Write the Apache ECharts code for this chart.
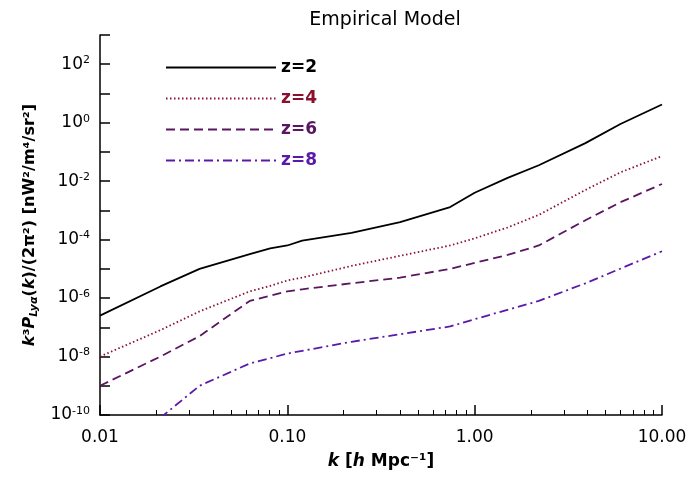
<!DOCTYPE html>
<html>
<head>
<meta charset="utf-8">
<script src="https://cdn.jsdelivr.net/npm/echarts@6/dist/echarts.min.js"></script>
<style>html,body{margin:0;background:#fff}#c{width:700px;height:500px}</style>
</head>
<body>
<div id="c"></div>
<script>
// wavenumber k [h/Mpc]
const kVals = [0.01, 0.021, 0.034, 0.063, 0.081, 0.1, 0.12, 0.22, 0.40, 0.74, 1.0, 1.5, 2.2, 3.9, 6.0, 10];
const z2 = [2.5e-7, 2.5e-6, 1e-5, 3.2e-5, 5e-5, 6.3e-5, 9.3e-5, 1.7e-4, 4e-4, 1.3e-3, 4e-3, 1.3e-2, 3.5e-2, 0.2, 0.9, 4.2];
const z4 = [1e-8, 8e-8, 3.5e-7, 1.7e-6, 2.6e-6, 4e-6, 5e-6, 1.26e-5, 2.8e-5, 6.3e-5, 1.1e-4, 2.6e-4, 7e-4, 5e-3, 2e-2, 7.2e-2];
const z6 = [1e-9, 1e-8, 5e-8, 8e-7, 1.2e-6, 1.7e-6, 2e-6, 3.2e-6, 5e-6, 1e-5, 1.6e-5, 3e-5, 6.3e-5, 4.6e-4, 1.9e-3, 8e-3];
const kZ8 = [0.021, 0.034, 0.063, 0.1, 0.22, 0.40, 0.74, 1.0, 2.2, 3.9, 10];
const z8 = [8e-11, 1e-9, 5.8e-9, 1.26e-8, 3.2e-8, 5.8e-8, 1.07e-7, 1.9e-7, 8e-7, 3.2e-6, 4e-5];

const series = [
  {name: 'z=2', k: kVals, v: z2, color: '#000000', type: 'solid'},
  {name: 'z=4', k: kVals, v: z4, color: '#8b1030', type: [1.5, 2.5]},
  {name: 'z=6', k: kVals, v: z6, color: '#5a1660', type: [9, 5]},
  {name: 'z=8', k: kZ8, v: z8, color: '#5a1aa8', type: [9, 4, 2, 4]}
];

const sup = {fontSize: 11, verticalAlign: 'top', padding: [0, 0, 8, 0]};
const chart = echarts.init(document.getElementById('c'));
chart.setOption({
  animation: false,
  textStyle: {fontFamily: 'DejaVu Sans'},
  title: {text: 'Empirical Model', left: 380, top: 6, textAlign: 'center',
    textStyle: {fontWeight: 'normal', fontSize: 19, color: '#000'}},
  grid: {left: 100, right: 38, top: 35, bottom: 85},
  legend: {
    left: 160, top: 54, orient: 'vertical', itemWidth: 110, itemHeight: 14, itemGap: 14,
    itemStyle: {opacity: 0},
    data: series.map(s => ({name: s.name, textStyle: {color: s.color}})),
    textStyle: {fontSize: 17, fontWeight: 'bold'}
  },
  xAxis: {
    type: 'log', min: 0.01, max: 10, logBase: 10,
    name: '{i|k} [{i|h} Mpc⁻¹]', nameLocation: 'middle', nameGap: 38,
    nameTextStyle: {fontSize: 17, fontWeight: 'bold', rich: {i: {fontStyle: 'italic', fontSize: 17, fontWeight: 'bold'}}},
    axisLine: {lineStyle: {color: '#000', width: 1.5}},
    axisTick: {inside: true, length: 10, lineStyle: {width: 1.5}},
    minorTick: {show: true, splitNumber: 9, length: 5},
    splitLine: {show: false},
    axisLabel: {fontSize: 17, color: '#000', margin: 14, formatter: v => v.toFixed(2)}
  },
  yAxis: {
    type: 'log', min: 1e-10, max: 1e3, logBase: 10, interval: 1,
    name: '{i|k}³{i|P}{s|Lyα}({i|k})/(2π²) [nW²/m⁴/sr²]', nameLocation: 'middle', nameGap: 60,
    nameTextStyle: {fontSize: 16, fontWeight: 'bold', rich: {
      i: {fontSize: 16, fontWeight: 'bold', fontStyle: 'italic'},
      s: {fontSize: 11, fontWeight: 'bold', fontStyle: 'italic', padding: [8, 0, 0, 0]}}},
    axisLine: {lineStyle: {color: '#000', width: 1.5}},
    axisTick: {inside: true, length: 10, lineStyle: {width: 1.5}},
    splitLine: {show: false},
    axisLabel: {fontSize: 17, color: '#000', margin: 10,
      formatter: v => {
        const e = Math.round(Math.log10(v));
        return e % 2 === 0 && e < 3 ? '10{s|' + e + '}' : '';
      },
      rich: {s: sup}}
  },
  series: series.map(s => ({
    name: s.name, type: 'line', symbol: 'none',
    data: s.k.map((k, i) => [k, s.v[i]]),
    lineStyle: {color: s.color, width: 1.8, type: s.type},
    itemStyle: {color: s.color},
    clip: true
  }))
});
</script>
</body>
</html>
